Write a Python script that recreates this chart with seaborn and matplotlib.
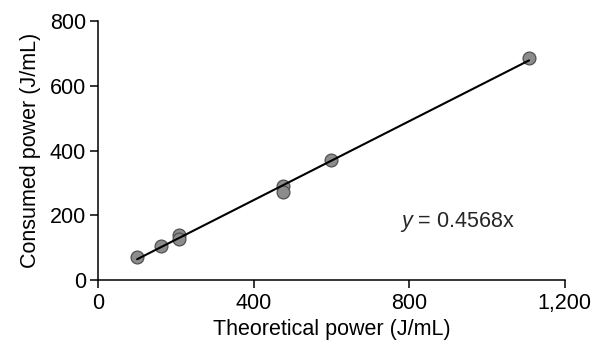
import matplotlib
matplotlib.use('Agg')
import pandas as pd
import seaborn as sns
from matplotlib import pyplot as plt

# values
theoretical = [100, 162, 208, 208, 476, 476, 598, 1108]
consumed = [72, 104, 138, 127, 292, 272, 371, 685]
x_ticks = [0, 400, 800, 1200]
x_tick_labels = ['0', '400', '800', '1,200']
y_ticks = [0, 200, 400, 600, 800]
equation = '$y$ = 0.4568x'

df = pd.DataFrame({'theoretical': theoretical, 'consumed': consumed})

sns.set_style('ticks')
plt.rcParams['font.family'] = ['Liberation Sans', 'DejaVu Sans']
plt.rcParams['mathtext.fontset'] = 'custom'
plt.rcParams['mathtext.it'] = 'Liberation Sans:italic'
plt.rcParams['mathtext.rm'] = 'Liberation Sans'

fig = plt.figure(figsize=(5.92, 3.45), dpi=100)
ax = fig.add_axes([0.166, 0.188, 0.788, 0.751])

sns.regplot(data=df, x='theoretical', y='consumed', ax=ax, ci=None, truncate=True,
            scatter_kws=dict(s=85, color='#8c8c8c', edgecolor='#505050', linewidths=0.9,
                             alpha=1, zorder=2),
            line_kws=dict(color='black', lw=1.5, zorder=3))

ax.set_xlim(0, 1200)
ax.set_ylim(0, 800)
ax.set_xticks(x_ticks)
ax.set_xticklabels(x_tick_labels)
ax.set_yticks(y_ticks)
ax.tick_params(labelsize=15.5, length=6, width=1.1, color='black', labelcolor='black', pad=3)
for s in ['left', 'bottom']:
    ax.spines[s].set_color('black')
    ax.spines[s].set_linewidth(1.1)
sns.despine(ax=ax)
for spine in ax.spines.values():
    spine.set_clip_on(False)

ax.set_xlabel('Theoretical power (J/mL)', fontsize=15.5, labelpad=4, color='black')
ax.set_ylabel('Consumed power (J/mL)', fontsize=15.5, labelpad=6, color='black')
ax.text(775, 180, equation, fontsize=15.5, va='center', ha='left')

fig.savefig('out.png', dpi=100)
